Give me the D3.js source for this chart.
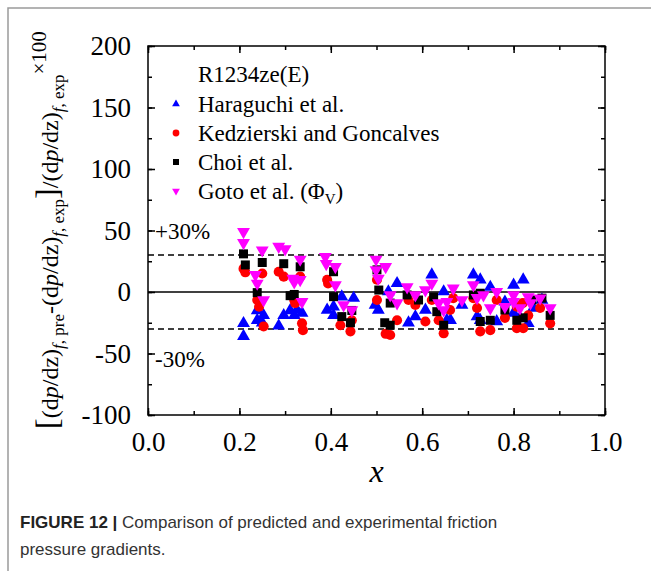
<!DOCTYPE html>
<html>
<head>
<meta charset="utf-8">
<script src="https://cdn.jsdelivr.net/npm/d3@7"></script>
<style>
	body { margin: 0; background: #fff; }
	svg { display: block; }
	text { font-family: "Liberation Serif", "Times New Roman", serif; fill: #000; }
	.caption { font-family: "Liberation Sans", Arial, sans-serif; fill: #333; }
</style>
</head>
<body>
<svg id="chart" width="651" height="571"></svg>
<script>
// Haraguchi et al. (blue up-triangles)
const haraguchiX = [0.209, 0.209, 0.239, 0.239, 0.253, 0.25, 0.286, 0.297, 0.311, 0.326, 0.337, 0.32, 0.392, 0.406, 0.406, 0.424, 0.45, 0.504, 0.497, 0.526, 0.545, 0.57, 0.585, 0.607, 0.621, 0.647, 0.654, 0.662, 0.687, 0.712, 0.72, 0.727, 0.727, 0.749, 0.763, 0.781, 0.80, 0.80, 0.814, 0.821, 0.832, 0.843, 0.862]
const haraguchiY = [-25.5, -36, -15, -23, -19, -25, -27.5, -19, -15, -14.6, -17, -19, -14.6, -12, -19, -3.8, -5, -14.6, -10.6, 0.3, 7, -25, -20, -14.6, 14, 0.3, -23, -23, -10.6, 14, -20, 10, -23, 4, -24, -8, 5.7, -17, -21, 10, -25.5, -13, -6.5]
// Kedzierski and Goncalves (red circles)
const kedzierskiX = [0.209, 0.213, 0.25, 0.286, 0.297, 0.239, 0.243, 0.253, 0.333, 0.32, 0.322, 0.337, 0.339, 0.392, 0.394, 0.421, 0.446, 0.443, 0.501, 0.501, 0.52, 0.53, 0.545, 0.57, 0.585, 0.607, 0.621, 0.636, 0.647, 0.661, 0.668, 0.712, 0.72, 0.727, 0.749, 0.763, 0.781, 0.807, 0.821, 0.807, 0.832, 0.858, 0.88, 0.82]
const kedzierskiY = [19, 16, 15, 16.5, 12.5, -6.5, -12, -28, 12.5, -6.5, -9, -25.5, -31, 10, 7, -27, -23, -32, 10, -6.5, -34, -35, -23, -6.5, -10.6, -24, -6.5, -23, -33.6, -14.6, -5, -5, -13, -32, -31, -6.5, -21, -29.5, -29.5, -12, -19, -13, -25.5, -9]
// Choi et al. (black squares)
const choiX = [0.209, 0.213, 0.25, 0.297, 0.239, 0.311, 0.333, 0.406, 0.501, 0.505, 0.32, 0.406, 0.424, 0.446, 0.443, 0.518, 0.53, 0.53, 0.567, 0.592, 0.625, 0.632, 0.647, 0.712, 0.727, 0.727, 0.749, 0.807, 0.821, 0.84, 0.862, 0.88, 0.781]
const choiY = [31, 22, 24, 23, -0.5, -3, 20.5, 16.5, 18, 1.6, -2, -3.8, -20, -15, -25, -25, -9, -27, -2.4, -6.5, -4, -16, -27, -2.4, -24, -1, -23, -23, -21, -6.5, -5, -19, -14.6]
// Goto et al. (magenta down-triangles)
const gotoX = [0.209, 0.209, 0.25, 0.286, 0.30, 0.235, 0.239, 0.253, 0.333, 0.388, 0.39, 0.41, 0.499, 0.499, 0.504, 0.317, 0.333, 0.32, 0.337, 0.41, 0.446, 0.428, 0.52, 0.53, 0.545, 0.567, 0.585, 0.607, 0.621, 0.636, 0.647, 0.654, 0.668, 0.687, 0.712, 0.72, 0.763, 0.749, 0.80, 0.80, 0.814, 0.832, 0.837, 0.858, 0.88, 0.734, 0.781]
const gotoY = [49, 40, 34, 37, 35, 14, 7, -6.5, 26.5, 28.7, 23, 20.5, 26.5, 18, 11, 11, 10, 8, -8, 5.7, -14.6, -10.6, 20.5, -2.4, -9, 4, -2.4, 1.6, 7, -9, -14.6, -8, 3, -6.5, 5.7, -4.7, 0.3, -13, -2.4, -8, -13, -4, -9, -5, -13, -2.4, -12]

const xTicks = [0, 0.2, 0.4, 0.6, 0.8, 1.0]
const yTicks = [-100, -50, 0, 50, 100, 150, 200]
const bandLimits = [30, -30]

const series = [
	{ name: "Haraguchi et al.", xs: haraguchiX, ys: haraguchiY, shape: d3.symbolTriangle, rot: 0, color: "#0000ff", size: 72, legendSize: 26 },
	{ name: "Kedzierski and Goncalves", xs: kedzierskiX, ys: kedzierskiY, shape: d3.symbolCircle, rot: 0, color: "#ff0000", size: 80, legendSize: 36 },
	{ name: "Choi et al.", xs: choiX, ys: choiY, shape: d3.symbolSquare, rot: 0, color: "#000000", size: 81, legendSize: 36 },
	{ name: "Goto et al. (", xs: gotoX, ys: gotoY, shape: d3.symbolTriangle, rot: 180, color: "#ff00ff", size: 72, legendSize: 26 }
]

const serif = "'Liberation Serif', 'Times New Roman', serif"
const svg = d3.select("#chart")
const mLeft = 148, mRight = 605, mTop = 46, mBottom = 415

const x = d3.scaleLinear().domain([0, 1]).range([mLeft, mRight])
const y = d3.scaleLinear().domain([-100, 200]).range([mBottom, mTop])

// figure frame
svg.append("path")
	.attr("d", "M8,571 L8,8 L651,8")
	.attr("fill", "none")
	.attr("stroke", "#9a9a9a")
	.attr("stroke-width", 1.5)

// inward ticks on all four sides
const tickStyle = g => {
	g.select(".domain").remove()
	g.selectAll("line").attr("stroke", "#000").attr("stroke-width", 1.5)
	g.selectAll("text").style("font-family", serif).attr("font-size", 27).attr("fill", "#000")
}
const xMinor = d3.range(0, 1.01, 0.1)
const yMinor = d3.range(-100, 201, 25)

svg.append("g").attr("transform", `translate(0,${mBottom})`)
	.call(d3.axisBottom(x).tickValues(xMinor).tickSize(-4).tickFormat(""))
	.call(tickStyle)
svg.append("g").attr("transform", `translate(0,${mBottom})`)
	.call(d3.axisBottom(x).tickValues(xTicks).tickSize(-7).tickPadding(17).tickFormat(d => d.toFixed(1)))
	.call(tickStyle)
svg.append("g").attr("transform", `translate(0,${mTop})`)
	.call(d3.axisTop(x).tickValues(xMinor).tickSize(-4).tickFormat(""))
	.call(tickStyle)
svg.append("g").attr("transform", `translate(0,${mTop})`)
	.call(d3.axisTop(x).tickValues(xTicks).tickSize(-7).tickFormat(""))
	.call(tickStyle)

svg.append("g").attr("transform", `translate(${mLeft},0)`)
	.call(d3.axisLeft(y).tickValues(yMinor).tickSize(-4).tickFormat(""))
	.call(tickStyle)
svg.append("g").attr("transform", `translate(${mLeft},0)`)
	.call(d3.axisLeft(y).tickValues(yTicks).tickSize(-7).tickPadding(17).tickFormat(d => String(d)))
	.call(tickStyle)
svg.append("g").attr("transform", `translate(${mRight},0)`)
	.call(d3.axisRight(y).tickValues(yMinor).tickSize(-4).tickFormat(""))
	.call(tickStyle)
svg.append("g").attr("transform", `translate(${mRight},0)`)
	.call(d3.axisRight(y).tickValues(yTicks).tickSize(-7).tickFormat(""))
	.call(tickStyle)

// plot box
svg.append("rect")
	.attr("x", mLeft).attr("y", mTop)
	.attr("width", mRight - mLeft).attr("height", mBottom - mTop)
	.attr("fill", "none").attr("stroke", "#000").attr("stroke-width", 1.5)

// zero line and +-30% bands
svg.append("line")
	.attr("x1", mLeft).attr("x2", mRight)
	.attr("y1", y(0)).attr("y2", y(0))
	.attr("stroke", "#000").attr("stroke-width", 1.5)
svg.selectAll(".band")
	.data(bandLimits)
	.enter()
	.append("line")
	.attr("class", "band")
	.attr("x1", mLeft).attr("x2", mRight)
	.attr("y1", d => y(d)).attr("y2", d => y(d))
	.attr("stroke", "#000").attr("stroke-width", 1.5)
	.attr("stroke-dasharray", "6,4")

svg.append("text").attr("x", 155).attr("y", y(30) - 16)
	.attr("font-size", 23).text("+30%")
svg.append("text").attr("x", 155).attr("y", y(-30) + 38)
	.attr("font-size", 23).text("-30%")

// data points
series.forEach(s => {
	svg.append("g")
		.selectAll("path")
		.data(d3.zip(s.xs, s.ys))
		.enter()
		.append("path")
		.attr("d", d3.symbol().type(s.shape).size(s.size))
		.attr("transform", d => `translate(${x(d[0])},${y(d[1])}) rotate(${s.rot})`)
		.attr("fill", s.color)
})

// legend
const legend = svg.append("g")
legend.append("text").attr("x", 198).attr("y", 82)
	.attr("font-size", 23).style("font-family", serif).text("R1234ze(E)")
series.forEach((s, i) => {
	const ly = 104 + i * 29
	legend.append("path")
		.attr("d", d3.symbol().type(s.shape).size(s.legendSize))
		.attr("transform", `translate(176,${ly}) rotate(${s.rot})`)
		.attr("fill", s.color)
	const t = legend.append("text").attr("x", 198).attr("y", ly + 8)
		.attr("font-size", 23).style("font-family", serif).text(s.name)
	if (i === 3) {
		t.append("tspan").text("\u03A6")
		t.append("tspan").attr("font-size", 15).attr("dy", 5).text("V")
		t.append("tspan").attr("dy", -5).text(")")
	}
})

// axis titles
svg.append("text")
	.attr("x", (mLeft + mRight) / 2).attr("y", 482)
	.attr("text-anchor", "middle")
	.attr("font-size", 32).attr("font-style", "italic")
	.style("font-family", serif)
	.text("x")

const yTitle = [
	{ t: "[", big: true }, { t: "(d" }, { t: "p", it: true }, { t: "/dz)" },
	{ t: "f", it: true, sub: true }, { t: ", pre", sub: true },
	{ t: "-(d" }, { t: "p", it: true }, { t: "/dz)" },
	{ t: "f", it: true, sub: true }, { t: ", exp", sub: true },
	{ t: "]", big: true }, { t: "/(d" }, { t: "p", it: true }, { t: "/dz)" },
	{ t: "f", it: true, sub: true }, { t: ", exp", sub: true },
	{ t: "\u00D7100", sup: true }
]
const yLabel = svg.append("text")
	.attr("transform", "translate(58,230) rotate(-90)")
	.attr("text-anchor", "middle")
	.attr("font-size", 24)
	.style("font-family", serif)
let shift = 0
yTitle.forEach(p => {
	const target = p.sub ? 6 : p.sup ? -12 : 0
	yLabel.append("tspan")
		.attr("dy", target - shift)
		.attr("font-size", p.big ? 32 : p.sup ? 21 : p.sub ? 17 : 24)
		.attr("font-style", p.it ? "italic" : null)
		.text(p.t)
	shift = target
})

// caption
const cap = svg.append("text").attr("class", "caption")
	.attr("x", 20).attr("y", 528).attr("font-size", 17)
cap.append("tspan").attr("font-weight", "bold").attr("fill", "#222").text("FIGURE 12 | ")
cap.append("tspan").text("Comparison of predicted and experimental friction")
svg.append("text").attr("class", "caption")
	.attr("x", 20).attr("y", 555).attr("font-size", 17)
	.text("pressure gradients.")
</script>
</body>
</html>
